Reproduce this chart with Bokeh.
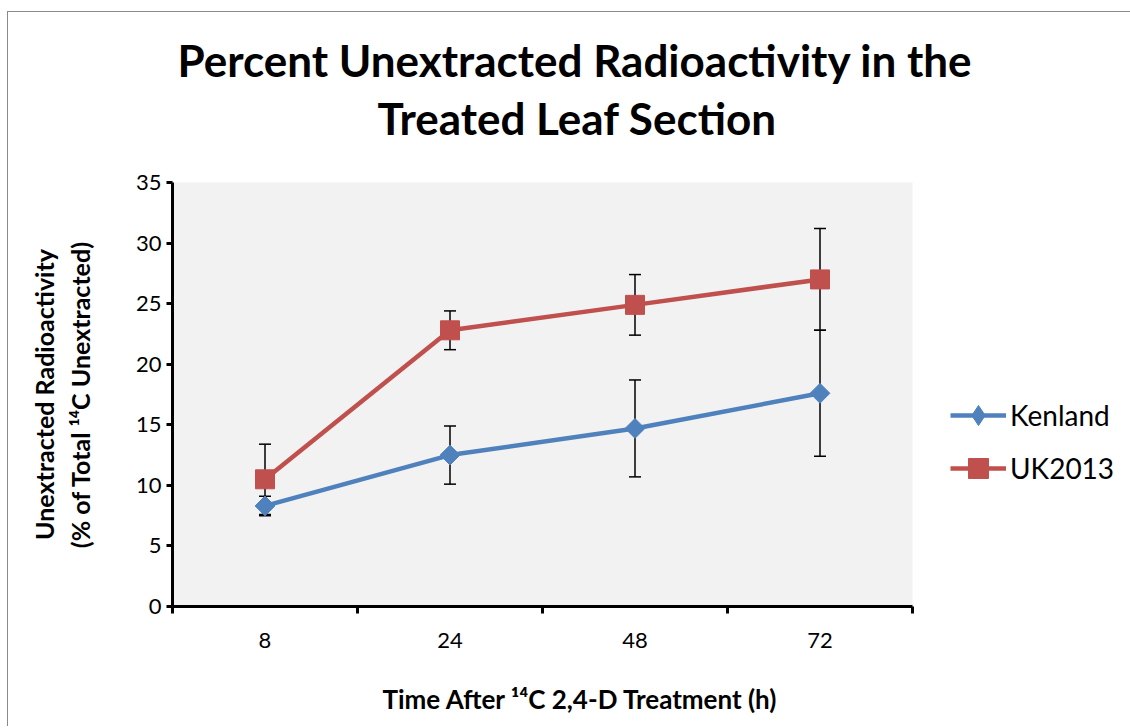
from bokeh.plotting import figure
from bokeh.models import (ColumnDataSource, Whisker, TeeHead, FixedTicker, LinearAxis,
                          CategoricalAxis, Range1d, FactorRange, Legend, LegendItem, Title)
from bokeh.embed import file_html
from bokeh.resources import INLINE
import math

# ---- data ----
times = ["8", "24", "48", "72"]
kenland = [8.3, 12.5, 14.7, 17.6]
kenland_err = [0.8, 2.4, 4.0, 5.2]
uk2013 = [10.5, 22.8, 24.9, 27.0]
uk2013_err = [2.9, 1.6, 2.5, 4.2]
y_ticks = [0, 5, 10, 15, 20, 25, 30, 35]

title_lines = ["Percent Unextracted Radioactivity in the", "Treated Leaf Section"]
x_title = "Time After \u00b9\u2074C 2,4-D Treatment (h)"
y_title = "Unextracted Radioactivity\n(% of Total \u00b9\u2074C Unextracted)"

BLUE = "#4F81BD"
RED = "#C0504D"
FONT = "Lato"

src_k = ColumnDataSource(dict(x=times, y=kenland,
                              lo=[v - e for v, e in zip(kenland, kenland_err)],
                              hi=[v + e for v, e in zip(kenland, kenland_err)]))
src_u = ColumnDataSource(dict(x=times, y=uk2013,
                              lo=[v - e for v, e in zip(uk2013, uk2013_err)],
                              hi=[v + e for v, e in zip(uk2013, uk2013_err)]))

p = figure(x_range=FactorRange(*times, range_padding=0),
           y_range=Range1d(0, 35),
           width=1120, height=714, frame_width=740, frame_height=424,
           output_backend="svg", toolbar_location=None,
           x_axis_location=None, y_axis_location=None,
           min_border_left=164, min_border_right=216,
           min_border_top=170, min_border_bottom=120,
           title=None)
p.styles = {"border-left": "1px solid #8a8a8a", "border-top": "1px solid #8a8a8a",
            "margin-left": "7px", "margin-top": "11px"}
p.background_fill_color = "#F2F2F2"
p.border_fill_color = "white"
p.outline_line_color = None
p.xgrid.visible = False
p.ygrid.visible = False

# title: spacer, then line 2, then line 1 (stacked upward from the frame)
p.add_layout(Title(text=" ", text_font=FONT, text_font_size="10px", standoff=25), "above")
p.add_layout(Title(text=title_lines[1], align="left", offset=205, standoff=0,
                   text_font=FONT, text_font_style="bold", text_font_size="44px",
                   text_color="black"), "above")
p.add_layout(Title(text=title_lines[0], align="left", offset=5, standoff=7,
                   text_font=FONT, text_font_style="bold", text_font_size="44px",
                   text_color="black"), "above")

# y axis
yax = LinearAxis(ticker=FixedTicker(ticks=y_ticks),
                 axis_line_width=3, axis_line_color="black",
                 major_tick_line_width=3, major_tick_out=6, major_tick_in=0,
                 minor_tick_line_color=None,
                 major_label_text_font=FONT, major_label_text_font_size="22px",
                 major_label_text_color="black",
                 major_label_standoff=5,
                 axis_label=y_title,
                 axis_label_text_font=FONT, axis_label_text_font_style="bold",
                 axis_label_text_font_size="25px", axis_label_standoff=38,
                 axis_label_text_color="black",
                 axis_label_text_align="center")
p.add_layout(yax, "left")

# x axis: tick marks at the category boundaries (synthetic coordinates 0..n)
xb = LinearAxis(ticker=FixedTicker(ticks=list(range(len(times) + 1))),
                axis_line_width=3, axis_line_color="black",
                major_tick_line_width=3, major_tick_out=7, major_tick_in=0,
                minor_tick_line_color=None,
                major_label_text_font_size="0px", major_label_standoff=0)
p.add_layout(xb, "below")
xc = CategoricalAxis(axis_line_color=None, major_tick_line_color=None,
                     minor_tick_line_color=None,
                     major_label_text_font=FONT, major_label_text_font_size="22px",
                     major_label_text_color="black",
                     major_label_standoff=13)
p.add_layout(xc, "below")
p.add_layout(Title(text=" ", text_font=FONT, text_font_size="10px", standoff=16), "below")
p.add_layout(Title(text=x_title, align="left", offset=210, standoff=0,
                   text_font=FONT, text_font_style="bold", text_font_size="26px",
                   text_color="black"), "below")

# error bars
for s in (src_k, src_u):
    w = Whisker(base="x", upper="hi", lower="lo", source=s, level="underlay",
                line_color="black", line_width=1.5,
                upper_head=TeeHead(size=12, line_width=1.5, line_color="black"),
                lower_head=TeeHead(size=12, line_width=1.5, line_color="black"))
    p.add_layout(w)

lk = p.line("x", "y", source=src_k, line_color=BLUE, line_width=4.5)
# diamond used by the legend (hidden under the rotated square in the plot)
mk_leg = p.scatter("x", "y", source=src_k, marker="diamond", size=19,
                   fill_color=BLUE, line_color=BLUE)
mk = p.scatter("x", "y", source=src_k, marker="square", angle=math.pi / 4, size=14,
               fill_color=BLUE, line_color=BLUE)
lu = p.line("x", "y", source=src_u, line_color=RED, line_width=4.5)
mu = p.scatter("x", "y", source=src_u, marker="square", size=19,
               fill_color=RED, line_color=RED)

legend = Legend(items=[LegendItem(label="Kenland", renderers=[lk, mk_leg]),
                       LegendItem(label="UK2013", renderers=[lu, mu])],
                location=(38, 113), orientation="vertical",
                label_text_font=FONT, label_text_font_size="28px",
                label_text_color="black",
                glyph_width=56, glyph_height=50, spacing=3, padding=0, margin=0,
                label_standoff=4, border_line_color=None,
                background_fill_alpha=0)
p.add_layout(legend, "right")

open("out.html", "w").write(file_html(p, INLINE))
